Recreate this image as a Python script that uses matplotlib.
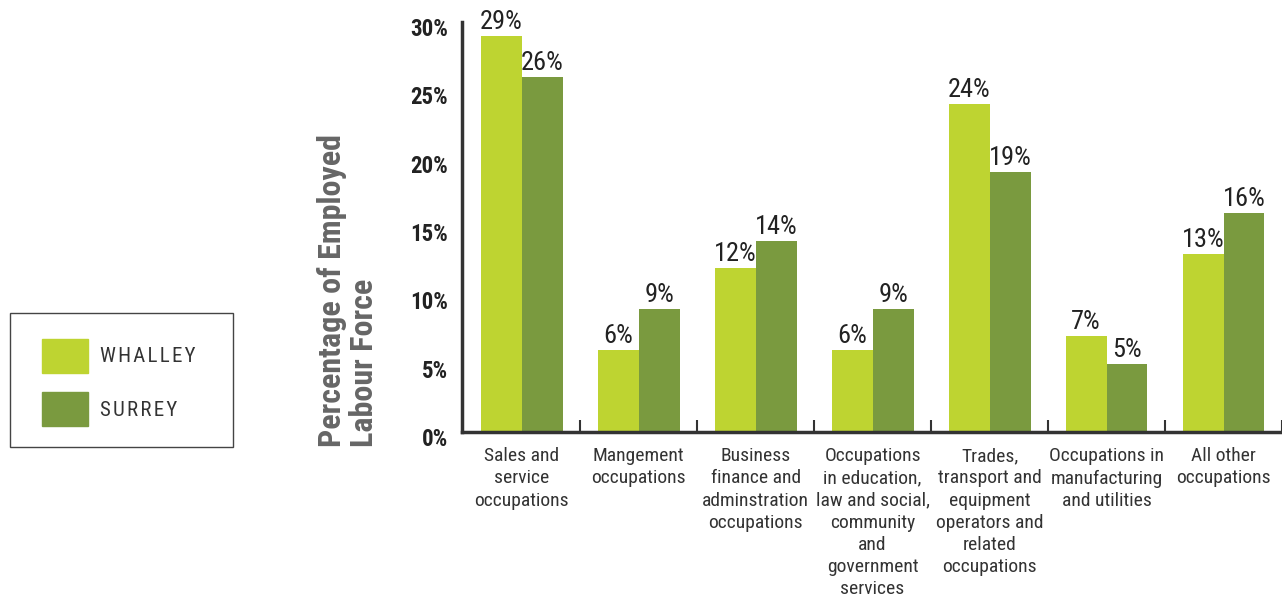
import matplotlib
matplotlib.use("Agg")
import matplotlib.pyplot as plt
import numpy as np
from matplotlib.patches import Rectangle
from matplotlib.transforms import offset_copy

categories = [
    "Sales and\nservice\noccupations",
    "Mangement\noccupations",
    "Business\nfinance and\nadminstration\noccupations",
    "Occupations\nin education,\nlaw and social,\ncommunity\nand\ngovernment\nservices",
    "Trades,\ntransport and\nequipment\noperators and\nrelated\noccupations",
    "Occupations in\nmanufacturing\nand utilities",
    "All other\noccupations",
]
whalley = [29, 6, 12, 6, 24, 7, 13]
surrey = [26, 9, 14, 9, 19, 5, 16]
yticks = [0, 5, 10, 15, 20, 25, 30]

light = "#bed431"
dark = "#7a9a3f"
plt.rcParams["font.family"] = ["Roboto Condensed", "DejaVu Sans"]

fig = plt.figure(figsize=(12.82, 5.98), dpi=100)
ax = fig.add_axes([462 / 1282, 1 - 432 / 598, 1 - 462 / 1282, 410 / 598])

x = np.arange(len(categories))
w = 0.35
b1 = ax.bar(x - w / 2, whalley, w, color=light)
b2 = ax.bar(x + w / 2, surrey, w, color=dark)

for bars, vals in ((b1, whalley), (b2, surrey)):
    for r, v in zip(bars, vals):
        ax.text(r.get_x() + r.get_width() / 2, v + 0.15, f"{v}%",
                ha="center", va="bottom", fontsize=19, color="#222222")

ax.set_xlim(-0.51, 6.5)
ax.set_ylim(0, 30)
ax.set_yticks(yticks)
ax.set_yticklabels([f"{t}%" for t in yticks], fontsize=16.5, fontweight="bold", color="#222222")
ax.tick_params(axis="y", length=0, pad=10)
for lab in ax.get_yticklabels():
    lab.set_transform(offset_copy(lab.get_transform(), fig=fig, x=0, y=-5, units="dots"))

# group separators as inward ticks, category names on minor ticks
ax.set_xticks(x + 0.5)
ax.set_xticklabels([])
ax.tick_params(axis="x", direction="in", length=9, width=1.5, color="#333333")
ax.set_xticks(x, minor=True)
ax.set_xticklabels(categories, minor=True, fontsize=14, color="#333333", linespacing=1.3)
ax.tick_params(axis="x", which="minor", length=0, pad=11)

for s in ("top", "right"):
    ax.spines[s].set_visible(False)
for s in ("left", "bottom"):
    ax.spines[s].set_linewidth(2.5)
    ax.spines[s].set_color("#333333")

fig.text(348 / 1282, 1 - 447 / 598, "Percentage of Employed\nLabour Force", rotation=90,
         ha="center", va="bottom", multialignment="left", fontsize=23,
         fontweight="bold", color="#666666", linespacing=1.1)

# legend box drawn by hand
fig.patches.append(Rectangle((10 / 1282, 1 - 447 / 598), 223 / 1282, 134 / 598,
                             transform=fig.transFigure, fill=False, edgecolor="#444444", linewidth=1))
for y0, c, lab in ((339, light, "WHALLEY"), (392, dark, "SURREY")):
    fig.patches.append(Rectangle((42 / 1282, 1 - (y0 + 34) / 598), 46 / 1282, 34 / 598,
                                 transform=fig.transFigure, color=c))
    fig.text(100 / 1282, 1 - (y0 + 18) / 598, "\u200a".join(lab),
             ha="left", va="center", fontsize=15, color="#333333")

plt.savefig("out.png", dpi=100)
